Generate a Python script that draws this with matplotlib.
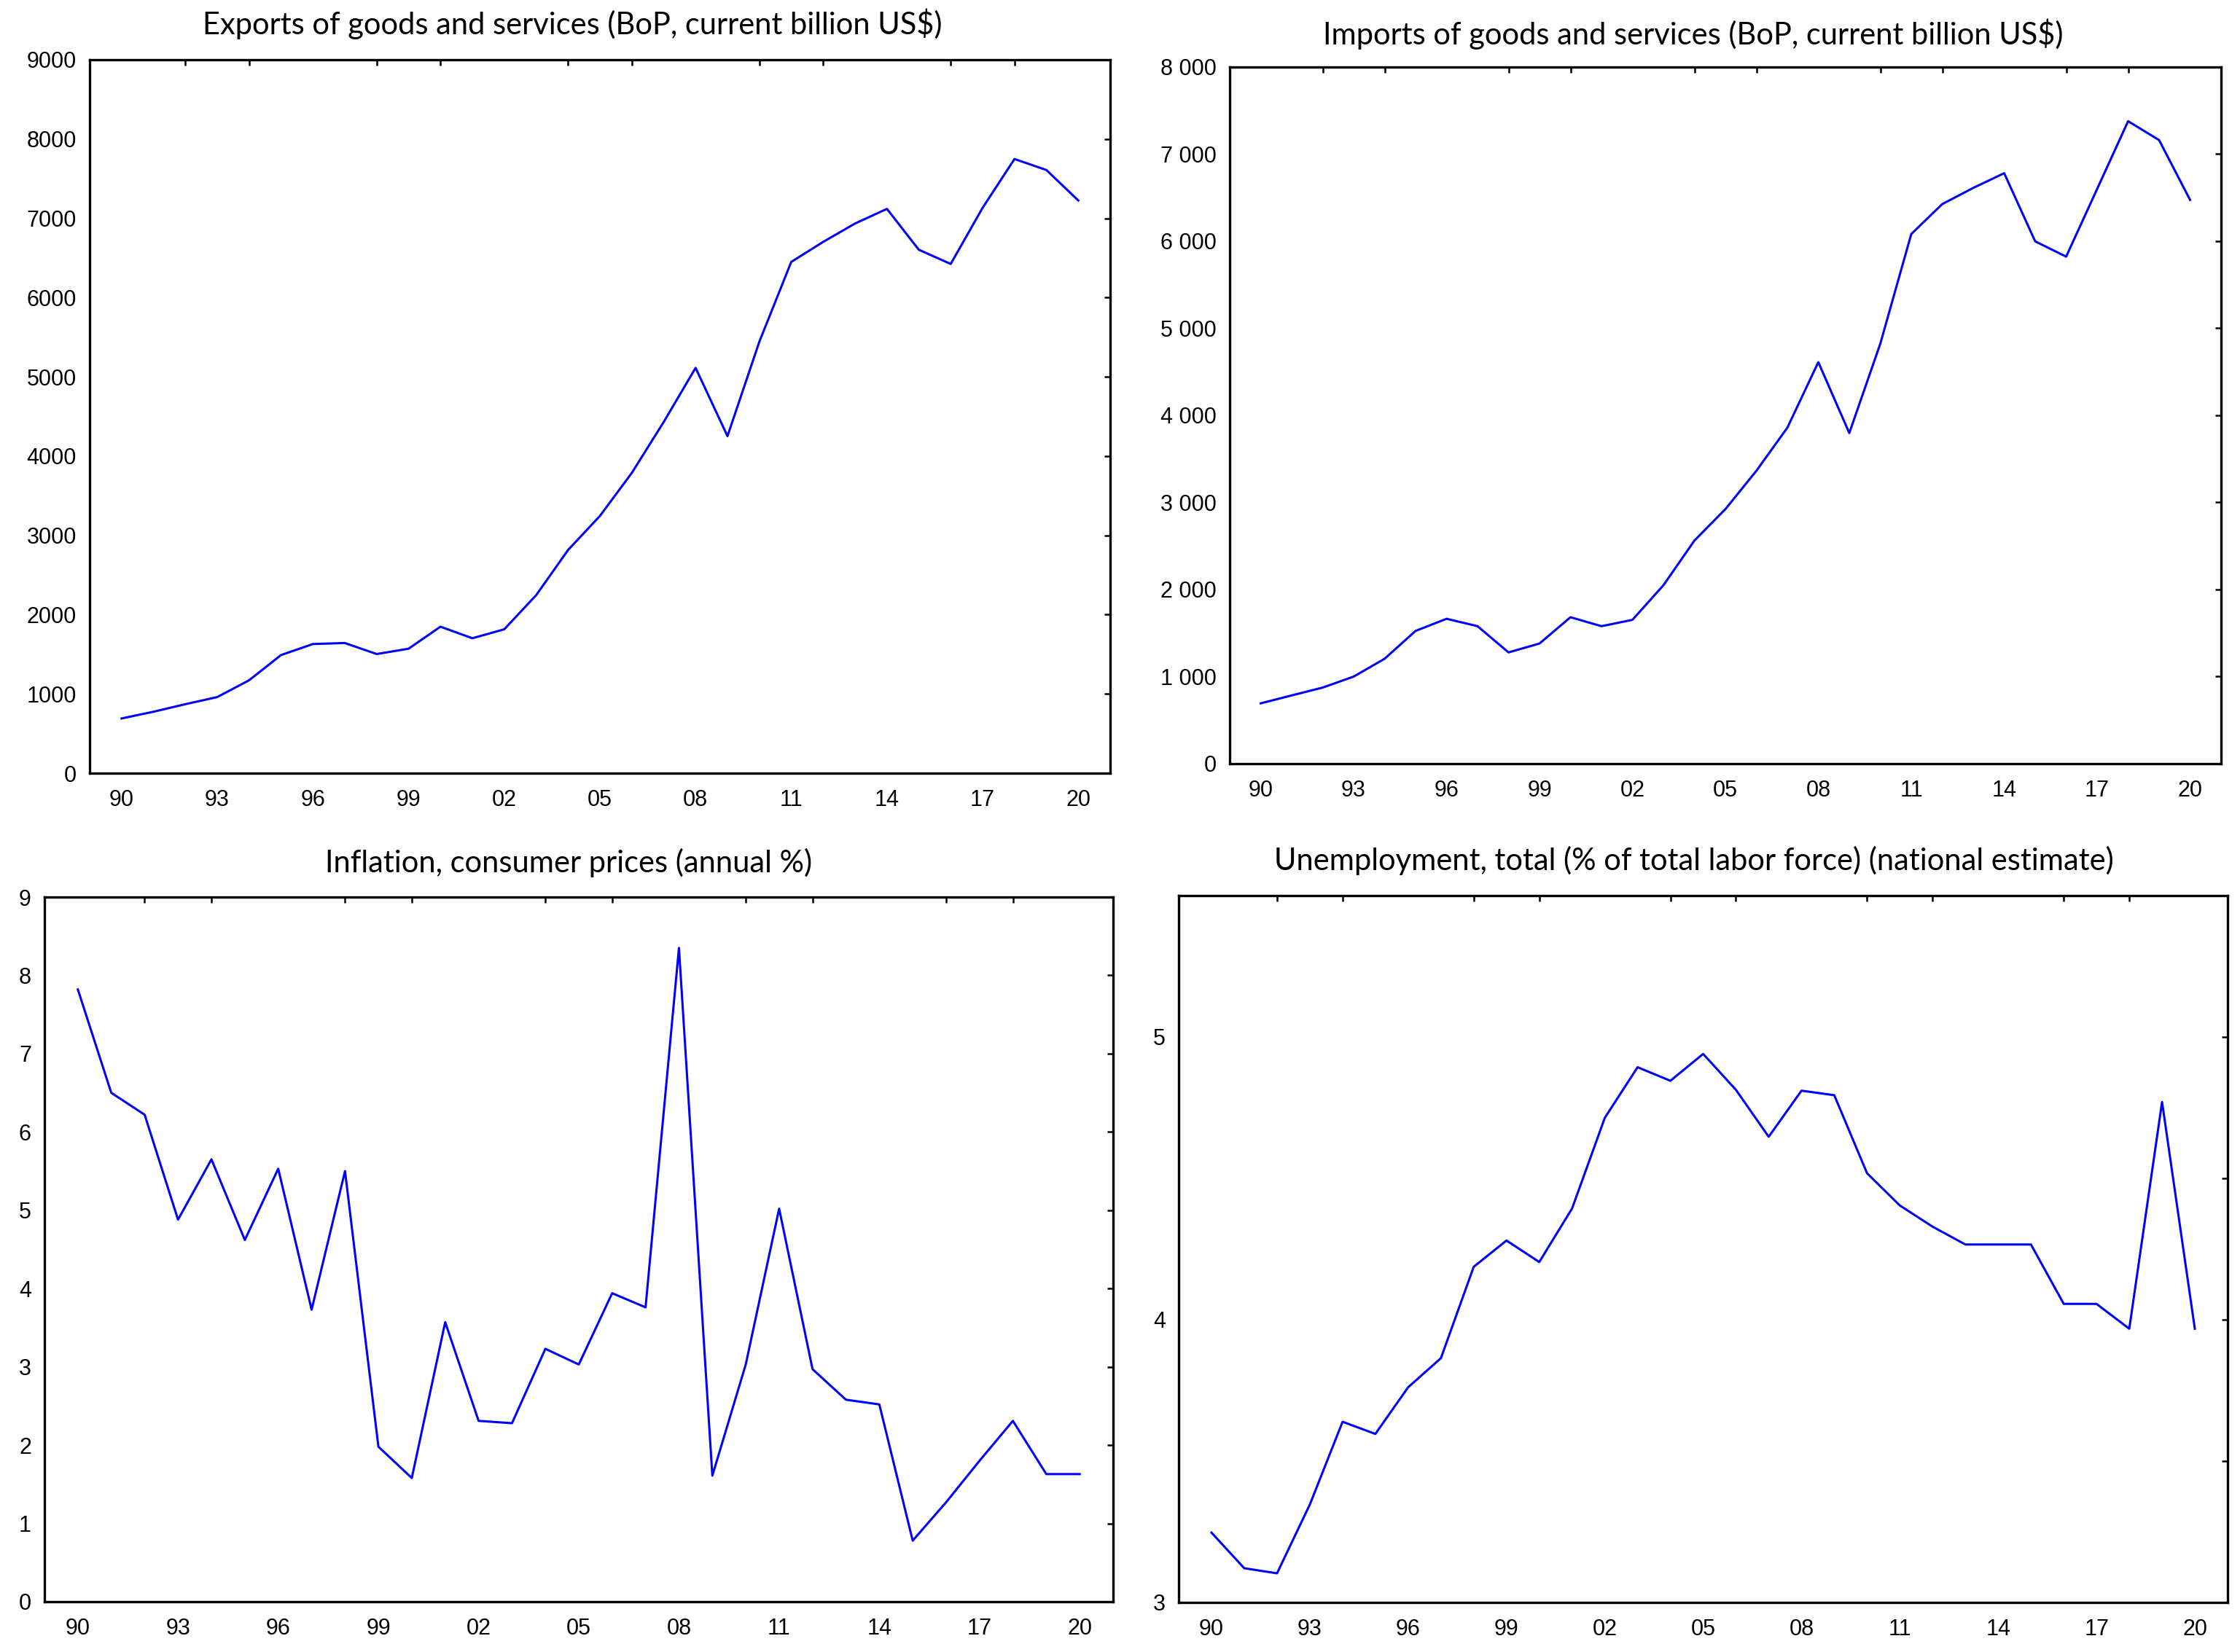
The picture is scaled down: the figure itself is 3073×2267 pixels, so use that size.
import numpy as np
import matplotlib
matplotlib.use("Agg")
from matplotlib import pyplot as plt
from matplotlib.ticker import FixedLocator, FuncFormatter

years = np.arange(1990, 2021)

exports = [690, 775, 870, 960, 1172, 1490, 1629, 1642, 1503, 1570,
           1848, 1702, 1815, 2245, 2815, 3245, 3788, 4430, 5113, 4252,
           5444, 6450, 6702, 6934, 7119, 6603, 6424, 7132, 7748, 7609, 7225]

imports = [693, 784, 874, 1000, 1205, 1525, 1664, 1579, 1278, 1380,
           1682, 1579, 1652, 2049, 2562, 2923, 3363, 3858, 4611, 3797,
           4822, 6082, 6426, 6612, 6781, 5998, 5823, 6600, 7378, 7161, 6474]

inflation = [7.82, 6.50, 6.22, 4.88, 5.65, 4.62, 5.53, 3.73, 5.50, 1.98,
             1.58, 3.57, 2.31, 2.28, 3.23, 3.03, 3.94, 3.76, 8.35, 1.61,
             3.03, 5.02, 2.97, 2.58, 2.52, 0.78, 1.27, 1.80, 2.31, 1.63, 1.63]

unemployment = [3.247, 3.121, 3.103, 3.346, 3.639, 3.596, 3.761, 3.864, 4.187, 4.280,
                4.204, 4.393, 4.714, 4.893, 4.845, 4.940, 4.813, 4.647, 4.810, 4.794,
                4.518, 4.404, 4.329, 4.266, 4.266, 4.266, 4.056, 4.056, 3.968, 4.770, 3.968]

titles = ["Exports of goods and services (BoP, current billion US$)",
          "Imports of goods and services (BoP, current billion US$)",
          "Inflation, consumer prices (annual %)",
          "Unemployment, total (% of total labor force) (national estimate)"]

plt.rcParams['font.family'] = ['Liberation Sans', 'DejaVu Sans']

fig = plt.figure(figsize=(3073 / 200, 2267 / 200), dpi=200)

# axes boxes (left, bottom, width, height) in figure fractions
boxes = [(0.04003, 0.53198, 0.45558, 0.43185),
         (0.54898, 0.53772, 0.44256, 0.42170),
         (0.01985, 0.03044, 0.47706, 0.42655),
         (0.52620, 0.03000, 0.46827, 0.42788)]
title_pos = [(0.2554, 0.97927), (0.7559, 0.97309), (0.2538, 0.4720), (0.7563, 0.47331)]

series = [exports, imports, inflation, unemployment]
ylims = [(0, 9000), (0, 8000), (0, 9), (3, 5.5)]
yticks = [np.arange(0, 9001, 1000), np.arange(0, 8001, 1000), np.arange(0, 10), [3, 4, 5]]
yminor = [[], [], [], [3.5, 4.5]]


def plain(v, pos):
    return "%d" % v


def spaced(v, pos):
    return "{:,}".format(int(v)).replace(",", " ")


def yr(v, pos):
    return "%02d" % (int(round(v)) % 100)


yfmt = [plain, spaced, plain, plain]

for i in range(4):
    ax = fig.add_axes(boxes[i])
    ax.plot(years, series[i], color='#0000ff', lw=1.1)
    ax.set_xlim(1989, 2021)
    ax.set_ylim(*ylims[i])

    ax.xaxis.set_major_locator(FixedLocator(np.arange(1990, 2021, 3)))
    ax.xaxis.set_minor_locator(FixedLocator(np.arange(1990, 2021, 2)))
    ax.xaxis.set_major_formatter(FuncFormatter(yr))
    ax.yaxis.set_major_locator(FixedLocator(yticks[i]))
    ax.yaxis.set_minor_locator(FixedLocator(yminor[i]))
    ax.yaxis.set_major_formatter(FuncFormatter(yfmt[i]))

    ax.tick_params(axis='x', which='major', bottom=False, top=False,
                   labelbottom=True, labelsize=11, pad=8, direction='in')
    ax.tick_params(axis='x', which='minor', bottom=False, top=True,
                   direction='in', length=3, width=0.9)
    ax.tick_params(axis='y', which='both', left=False, right=True,
                   labelleft=True, labelright=False, direction='in',
                   length=3, width=0.9, labelsize=11, pad=6.5)
    for s in ax.spines.values():
        s.set_linewidth(1.2)

    fig.text(title_pos[i][0], title_pos[i][1], titles[i], ha='center', va='baseline',
             fontsize=15, family=['Lato', 'DejaVu Sans'])

fig.savefig("out.png", dpi=200)
